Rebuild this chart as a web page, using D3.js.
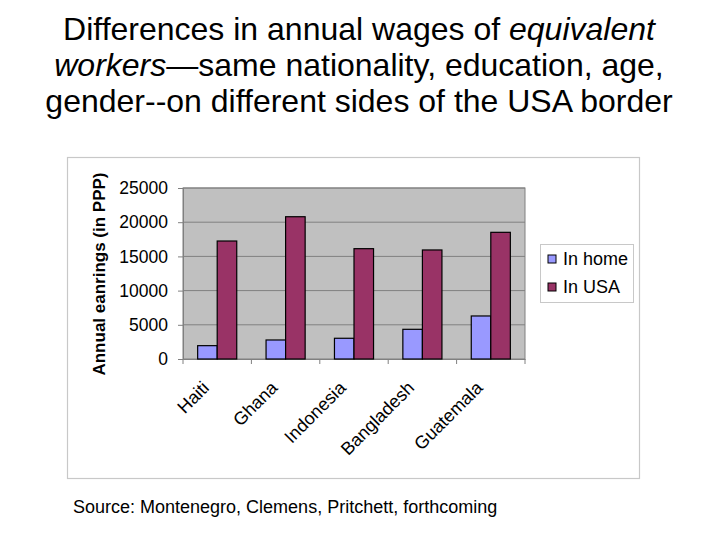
<!DOCTYPE html>
<html><head><meta charset="utf-8">
<script src="https://cdn.jsdelivr.net/npm/d3@7"></script>
<style>body{margin:0;background:#fff}svg{display:block}text{font-family:"Liberation Sans",Arial,sans-serif}</style>
</head><body>
<svg id="c" width="720" height="540"></svg>
<script>
const categories = ["Haiti","Ghana","Indonesia","Bangladesh","Guatemala"];
const seriesNames = ["In home","In USA"];
const inHome = [1950, 2780, 3030, 4340, 6290];
const inUSA = [17250, 20800, 16130, 15940, 18520];
const yTicks = [0,5000,10000,15000,20000,25000];
const colors = ["#9999ff","#993366"];

const svg = d3.select("#c");
// title
const title = svg.append("text").attr("text-anchor","middle").attr("font-size",32).attr("fill","#000");
const t1 = title.append("tspan").attr("x",359).attr("y",40);
t1.append("tspan").text("Differences in annual wages of ");
t1.append("tspan").attr("font-style","italic").text("equivalent");
const t2 = title.append("tspan").attr("x",359).attr("y",76);
t2.append("tspan").attr("font-style","italic").text("workers");
t2.append("tspan").text("\u2014same nationality, education, age,");
title.append("tspan").attr("x",359).attr("y",112).text("gender--on different sides of the USA border");

// outer chart box
svg.append("rect").attr("x",67.5).attr("y",157.5).attr("width",572).attr("height",321)
  .attr("fill","#fff").attr("stroke","#c8c8c8").attr("stroke-width",1.2);

const pL=183, pR=525, pT=188, pB=359;
const x0 = d3.scaleBand().domain(categories).range([pL,pR]).paddingInner(0).paddingOuter(0);
const barW = x0.bandwidth()/3.5;
const x1 = d3.scaleBand().domain(seriesNames).range([0,barW*2]);
const y = d3.scaleLinear().domain([0,25000]).range([pB,pT]);

svg.append("rect").attr("x",pL).attr("y",pT).attr("width",pR-pL).attr("height",pB-pT)
  .attr("fill","#c0c0c0").attr("stroke","#808080").attr("stroke-width",1);

// gridlines
svg.append("g").selectAll("line").data(yTicks.slice(1)).join("line")
  .attr("x1",pL).attr("x2",pR).attr("y1",d=>y(d)).attr("y2",d=>y(d))
  .attr("stroke","#808080").attr("stroke-width",1);

// y axis
const yAxis = svg.append("g").attr("transform",`translate(${pL},0)`)
  .call(d3.axisLeft(y).tickValues(yTicks).tickSize(5).tickPadding(10).tickFormat(d3.format("d")));
yAxis.select(".domain").attr("stroke","#808080");
yAxis.selectAll(".tick line").attr("stroke","#808080");
yAxis.selectAll("text").attr("font-size",17.5).attr("fill","#000").attr("font-family","Liberation Sans, Arial, sans-serif");

// x axis
const xAxis = svg.append("g").attr("transform",`translate(0,${pB})`)
  .call(d3.axisBottom(x0).tickSize(0).tickFormat(""));
xAxis.select(".domain").attr("stroke","#808080");
svg.append("g").selectAll("line").data(categories.concat(["__end"])).join("line")
  .attr("x1",(d,i)=>pL+i*x0.bandwidth()).attr("x2",(d,i)=>pL+i*x0.bandwidth())
  .attr("y1",pB).attr("y2",pB+5).attr("stroke","#808080");

svg.append("g").selectAll("text").data(categories).join("text")
  .attr("transform",d=>`translate(${x0(d)+x0.bandwidth()/2-7},${pB+30}) rotate(-45)`)
  .attr("text-anchor","end").attr("font-size",18).attr("fill","#000").text(d=>d);

// bars
const data = categories.map((c,i)=>({c, vals:[inHome[i], inUSA[i]]}));
const off = (x0.bandwidth()-barW*2)/2;
svg.append("g").selectAll("g").data(data).join("g")
  .attr("transform",d=>`translate(${x0(d.c)+off},0)`)
  .selectAll("rect").data(d=>d.vals.map((v,j)=>({v,s:seriesNames[j],j}))).join("rect")
  .attr("x",d=>x1(d.s)).attr("width",x1.bandwidth()).attr("y",d=>y(d.v)).attr("height",d=>pB-y(d.v))
  .attr("fill",d=>colors[d.j]).attr("stroke","#000").attr("stroke-width",1.2);

// y title
svg.append("text").attr("transform","translate(105,274) rotate(-90)").attr("text-anchor","middle")
  .attr("font-size",17).attr("font-weight","bold").attr("fill","#000").text("Annual eanrings (in PPP)");

// legend
const lg = svg.append("g");
lg.append("rect").attr("x",540.5).attr("y",244.5).attr("width",93).attr("height",58)
  .attr("fill","#fff").attr("stroke","#c8c8c8");
seriesNames.forEach((s,i)=>{
  lg.append("rect").attr("x",548).attr("y",255+i*28).attr("width",8).attr("height",8)
    .attr("fill",colors[i]).attr("stroke","#000");
  lg.append("text").attr("x",563).attr("y",265+i*28).attr("font-size",18).attr("fill","#000").text(s);
});

// source
svg.append("text").attr("x",73).attr("y",513).attr("font-size",18).attr("fill","#000")
  .text("Source:  Montenegro, Clemens, Pritchett, forthcoming");
</script>
</body></html>
